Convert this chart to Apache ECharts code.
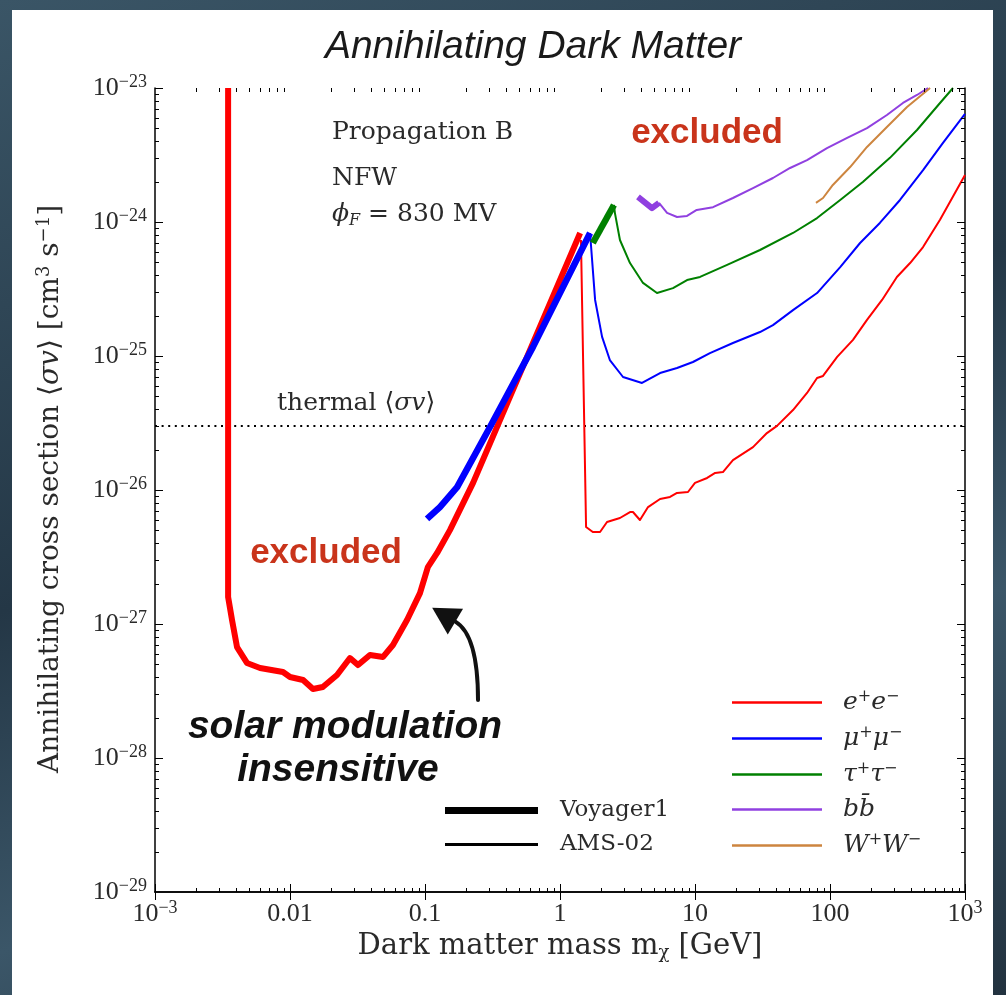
<!DOCTYPE html>
<html>
<head>
<meta charset="utf-8">
<title>Annihilating Dark Matter</title>
<script src="https://cdn.jsdelivr.net/npm/echarts@6/dist/echarts.min.js"></script>
<style>
  html, body { margin: 0; padding: 0; width: 1006px; height: 995px; overflow: hidden; }
  body { background: linear-gradient(160deg, #3a5566 0%, #243746 45%, #3b5668 70%, #22323f 100%); position: relative; }
  #panel { position: absolute; left: 12px; top: 10px; width: 981px; height: 985px; background: #ffffff; }
  #chart { position: absolute; left: 0; top: 0; width: 1006px; height: 995px; }
</style>
</head>
<body>
<div id="panel"></div>
<div id="chart"></div>
<script>
// ---- limits on <sigma v> vs dark matter mass [GeV, cm^3 s^-1] ----
const eeVoyager = [[3.48e-3,1.0e-23],[3.48e-3,1.59e-27],[3.72e-3,1.07e-27],[4.05e-3,6.73e-28],[4.80e-3,5.12e-28],
  [6.00e-3,4.70e-28],[8.87e-3,4.38e-28],[1.00e-2,4.02e-28],[1.25e-2,3.82e-28],[1.48e-2,3.27e-28],[1.75e-2,3.39e-28],
  [2.23e-2,4.16e-28],[2.78e-2,5.57e-28],[3.19e-2,4.94e-28],[3.91e-2,5.87e-28],[4.89e-2,5.68e-28],[5.79e-2,6.97e-28],
  [7.36e-2,1.07e-27],[9.18e-2,1.70e-27],[0.105,2.66e-27],[0.123,3.39e-27],[0.153,5.02e-27],[0.227,1.13e-26],[1.41,8.28e-25]];
const mumuVoyager = [[0.1035,6.08e-27],[0.129,7.46e-27],[0.173,1.05e-26],[0.303,2.95e-26],[0.631,1.17e-25],[1.67,8.28e-25]];
const tautauVoyager = [[1.75,6.97e-25],[2.51,1.34e-24]];
const bbVoyager = [[3.78,1.54e-24],[4.80,1.27e-24],[5.41,1.39e-24]];

const eeAMS = [[1.43,7.34e-25],[1.56,5.30e-27],[1.75,4.86e-27],[1.98,4.86e-27],[2.23,5.77e-27],[2.78,6.18e-27],[3.30,6.85e-27],
  [3.47,6.85e-27],[3.91,5.97e-27],[4.49,7.46e-27],[5.51,8.57e-27],[6.53,8.87e-27],[7.36,9.51e-27],[8.87,9.66e-27],[10.0,1.13e-26],
  [12.3,1.23e-26],[14.1,1.34e-26],[16.1,1.36e-26],[19.1,1.67e-26],[26.9,2.09e-26],[34.1,2.66e-26],[40.5,3.01e-26],[53.2,3.95e-26],
  [67.6,5.30e-26],[80.2,6.85e-26],[88.8,7.10e-26],[113,9.84e-26],[148,1.32e-25],[188,1.86e-25],[243,2.62e-25],[313,3.89e-25],
  [392,4.94e-25],[489,6.50e-25],[653,1.04e-24],[1000,2.24e-24]];
const mumuAMS = [[1.67,8.28e-25],[1.82,2.62e-25],[2.05,1.39e-25],[2.34,9.33e-26],[2.93,6.97e-26],[4.05,6.29e-26],[5.51,7.46e-26],
  [7.36,8.13e-26],[9.66,9.02e-26],[12.9,1.05e-25],[19.1,1.25e-25],[30.3,1.51e-25],[37.8,1.70e-25],[53.2,2.20e-25],[80.2,2.95e-25],
  [119,4.61e-25],[167,6.97e-25],[234,9.84e-25],[330,1.46e-24],[489,2.44e-24],[687,3.89e-24],[1000,6.40e-24]];
const tautauAMS = [[2.51,1.34e-24],[2.55,1.17e-24],[2.78,7.34e-25],[3.30,4.94e-25],[4.12,3.51e-25],[5.23,2.95e-25],[6.87,3.21e-25],
  [8.73,3.69e-25],[10.9,3.89e-25],[17.3,4.78e-25],[30.3,6.18e-25],[53.2,8.28e-25],[80.2,1.07e-24],[119,1.46e-24],[175,1.99e-24],
  [278,3.01e-24],[441,4.86e-24],[653,7.73e-24],[815,1.0e-23]];
const bbAMS = [[5.41,1.39e-24],[6.21,1.17e-24],[7.36,1.09e-24],[8.73,1.11e-24],[10.3,1.23e-24],[13.6,1.29e-24],[19.1,1.51e-24],
  [26.9,1.79e-24],[37.8,2.13e-24],[50.6,2.53e-24],[67.6,2.90e-24],[95.0,3.56e-24],[134,4.24e-24],[188,5.02e-24],[264,6.29e-24],
  [347,7.73e-24],[441,8.87e-24],[532,1.0e-23]];
const wwAMS = [[78.7,1.39e-24],[88.8,1.51e-24],[105,1.89e-24],[141,2.57e-24],[188,3.63e-24],[264,5.12e-24],[372,7.21e-24],[551,1.0e-23]];

const thermalSigmaV = 3e-26;

// channel names and their legend labels (rich text)
const channels = ['e+e-', 'mu+mu-', 'tau+tau-', 'bbbar', 'W+W-'];
const channelLabels = [
  '{p|}{i|e}{s|+}{i|e}{s|−}',
  '{p|}{i|μ}{s|+}{i|μ}{s|−}',
  '{p|}{i|τ}{s|+}{i|τ}{s|−}',
  '{p|}{i|b}{i|b̄}',
  '{p|}{i|W}{s|+}{i|W}{s|−}'
];
const channelColors = ['#ff0000', '#0000ff', '#008000', '#9040e0', '#cd853f'];
const experiments = ['Voyager1', 'AMS-02'];

// axis ranges (decades) and tick labels
const xDecades = [-3, 3];
const yDecades = [-29, -23];
const xTickLabels = ['{b|10}{s|−3}', '{b|0.01}', '{b|0.1}', '{b|1}', '{b|10}', '{b|100}', '{b|10}{s|3}'];
const yTickLabels = ['{b|10}{s|−29}', '{b|10}{s|−28}', '{b|10}{s|−27}', '{b|10}{s|−26}', '{b|10}{s|−25}', '{b|10}{s|−24}', '{b|10}{s|−23}'];

const exactPow10 = e => Number('1e' + e);
const xRange = [exactPow10(xDecades[0]), exactPow10(xDecades[1])];
const yRange = [exactPow10(yDecades[0]), exactPow10(yDecades[1])];

// minor ticks at 2..9 times each decade
function minorTicks(dec) {
  const out = [];
  for (let e = dec[0]; e < dec[1]; e++) {
    for (let k = 2; k <= 9; k++) out.push(Number(k + 'e' + e));
  }
  return out;
}
const xMinor = minorTicks(xDecades);
const yMinor = minorTicks(yDecades);

const SERIF = "'Liberation Serif', 'DejaVu Serif', serif";
const WSERIF = "'DejaVu Serif', 'Liberation Serif', serif";
const SANS = "'Liberation Sans', 'DejaVu Sans', Arial, sans-serif";
const INK = '#2a2a2a';

const tickRich = {
  b: { fontFamily: SERIF, fontSize: 26, color: INK, lineHeight: 30 },
  s: { fontFamily: SERIF, fontSize: 18, color: INK, lineHeight: 14, verticalAlign: 'top' }
};

const chart = echarts.init(document.getElementById('chart'));

function lineSeries(name, data, color, width) {
  return {
    type: 'line', name: name, data: data, showSymbol: false, symbol: 'none',
    lineStyle: { color: color, width: width, cap: 'butt', join: 'round' },
    itemStyle: { color: color }, silent: true, animation: false, z: 3
  };
}

const minorTickSeries = (axis) => ({
  type: 'custom', silent: true, animation: false, z: 6,
  data: axis === 'x' ? xMinor.map(v => [v, 1e-26]) : yMinor.map(v => [0.01, v]),
  renderItem: function (params, api) {
    const cs = params.coordSys;
    const p = api.coord([api.value(0), api.value(1)]);
    const st = { stroke: '#000', lineWidth: 1 };
    if (axis === 'x') {
      const x = Math.round(p[0]) + 0.5;
      return { type: 'group', children: [
        { type: 'line', shape: { x1: x, y1: cs.y + cs.height, x2: x, y2: cs.y + cs.height - 4 }, style: st },
        { type: 'line', shape: { x1: x, y1: cs.y, x2: x, y2: cs.y + 4 }, style: st }
      ] };
    }
    const y = Math.round(p[1]) + 0.5;
    return { type: 'group', children: [
      { type: 'line', shape: { x1: cs.x, y1: y, x2: cs.x + 4, y2: y }, style: st },
      { type: 'line', shape: { x1: cs.x + cs.width, y1: y, x2: cs.x + cs.width - 4, y2: y }, style: st }
    ] };
  }
});

function logIndex(v) { return Math.round(Math.log10(v)); }

function logAxis(extra) {
  return Object.assign({
    type: 'log', logBase: 10, interval: 1,
    axisLine: { show: true, lineStyle: { color: '#000', width: 1.5 } },
    axisTick: { show: true, inside: true, length: 8, lineStyle: { color: '#000', width: 1 } },
    splitLine: { show: false }, minorTick: { show: false }
  }, extra);
}

const option = {
  animation: false,
  backgroundColor: 'transparent',
  grid: { left: 155, top: 88, width: 810, height: 804, containLabel: false, outerBoundsMode: 'none' },
  xAxis: [
    logAxis({
      min: xRange[0], max: xRange[1], position: 'bottom',
      name: '{t|Dark matter mass m}{sub|χ}{t| [GeV]}', nameLocation: 'middle', nameGap: 36,
      nameTextStyle: { rich: {
        t: { fontFamily: WSERIF, fontSize: 29, color: INK, lineHeight: 32 },
        sub: { fontFamily: WSERIF, fontSize: 18, color: INK, lineHeight: 12, verticalAlign: 'bottom' }
      } },
      axisLabel: { show: true, margin: 7, showMinLabel: true, showMaxLabel: true,
        formatter: v => xTickLabels[logIndex(v) - xDecades[0]], rich: tickRich }
    }),
    logAxis({ min: xRange[0], max: xRange[1], position: 'top', axisLabel: { show: false } })
  ],
  yAxis: [
    logAxis({
      min: yRange[0], max: yRange[1], position: 'left',
      // the corner label (lowest decade) is placed separately below
      axisLabel: { show: true, margin: 8, showMinLabel: false, showMaxLabel: true,
        formatter: v => logIndex(v) === yDecades[0] ? '' : yTickLabels[logIndex(v) - yDecades[0]], rich: tickRich }
    }),
    logAxis({ min: yRange[0], max: yRange[1], position: 'right', axisLabel: { show: false } })
  ],
  legend: [
    {
      data: channels.map(n => ({ name: n, icon: 'path://M0 0H90V2.5H0Z' })),
      orient: 'vertical', left: 732, top: 689, padding: 0,
      itemWidth: 90, itemHeight: 14, itemGap: 10, selectedMode: false, symbolKeepAspect: true,
      formatter: name => channelLabels[channels.indexOf(name)],
      textStyle: { rich: {
        p: { width: 16 },
        i: { fontFamily: WSERIF, fontStyle: 'italic', fontSize: 25, color: INK, lineHeight: 27 },
        s: { fontFamily: WSERIF, fontSize: 16, color: INK, lineHeight: 14, verticalAlign: 'top' }
      } }
    },
    {
      data: [
        { name: experiments[0], icon: 'path://M0 0H93V7H0Z' },
        { name: experiments[1], icon: 'path://M0 0H93V3H0Z' }
      ],
      orient: 'vertical', left: 445, top: 799, padding: 0,
      itemWidth: 93, itemHeight: 14, itemGap: 11, selectedMode: false, symbolKeepAspect: true,
      formatter: name => '{p|}{t|' + name + '}',
      textStyle: { rich: {
        p: { width: 17 },
        t: { fontFamily: WSERIF, fontSize: 23, color: INK, lineHeight: 26 }
      } }
    }
  ],
  series: [
    // AMS-02 limits (thin)
    lineSeries('e+e-', eeAMS, channelColors[0], 2),
    lineSeries('mu+mu-', mumuAMS, channelColors[1], 2),
    lineSeries('tau+tau-', tautauAMS, channelColors[2], 2),
    lineSeries('bbbar', bbAMS, channelColors[3], 2),
    lineSeries('W+W-', wwAMS, channelColors[4], 2),
    // Voyager 1 limits (thick)
    lineSeries('e+e- Voyager1', eeVoyager, channelColors[0], 6),
    lineSeries('mu+mu- Voyager1', mumuVoyager, channelColors[1], 6.5),
    lineSeries('tau+tau- Voyager1', tautauVoyager, channelColors[2], 6.5),
    lineSeries('bbbar Voyager1', bbVoyager, channelColors[3], 6),
    // line-style keys for the experiment legend
    lineSeries('Voyager1', [], '#000', 7),
    lineSeries('AMS-02', [], '#000', 3),
    // thermal relic cross section
    {
      type: 'line', name: 'thermal', showSymbol: false, symbol: 'none', silent: true, z: 2,
      data: [[xRange[0], thermalSigmaV], [xRange[1], thermalSigmaV]],
      lineStyle: { color: '#000', width: 2, type: [2, 4.6] }
    },
    minorTickSeries('x'),
    minorTickSeries('y')
  ]
};

chart.setOption(option);

// annotations: texts, y-axis title, corner tick label and the curved arrow
const toPx = d => chart.convertToPixel({ xAxisIndex: 0, yAxisIndex: 0 }, d);
const arrowTail = toPx([0.247, 2.71e-28]);
const arrowCtrl = toPx([0.247, 8.28e-28]);
const arrowTip = toPx([0.113, 1.32e-27]);
const dx = arrowTip[0] - arrowCtrl[0], dy = arrowTip[1] - arrowCtrl[1];
const dl = Math.hypot(dx, dy) || 1, ux = dx / dl, uy = dy / dl;
const headLen = 27, headHalf = 15;
const base = [arrowTip[0] - ux * headLen, arrowTip[1] - uy * headLen];
const corner = toPx([xRange[0], yRange[0]]);

const txt = (x, y, text, font, color, align, rich) => ({
  type: 'text', x: x, y: y, silent: true, z: 20,
  style: { text: text, font: font, fill: color || INK, align: align || 'left', verticalAlign: 'middle', rich: rich }
});

const tickRichFill = {
  b: { fontFamily: SERIF, fontSize: 26, fill: INK, lineHeight: 30 },
  s: { fontFamily: SERIF, fontSize: 18, fill: INK, lineHeight: 14, verticalAlign: 'top' }
};

const yTitle = txt(51, 489, '{t|Annihilating cross section ⟨}{i|σv}{t|⟩ [cm}{s|3}{t| s}{s|−1}{t|]}', '28px ' + WSERIF, INK, 'center', {
  t: { fontFamily: WSERIF, fontSize: 28, fill: INK, lineHeight: 32 },
  i: { fontFamily: WSERIF, fontStyle: 'italic', fontSize: 28, fill: INK, lineHeight: 32 },
  s: { fontFamily: WSERIF, fontSize: 18, fill: INK, lineHeight: 16, verticalAlign: 'top' }
});
yTitle.rotation = Math.PI / 2;

chart.setOption({
  graphic: [
    txt(533, 47, 'Annihilating Dark Matter', 'italic 39px ' + SANS, '#1a1a1a', 'center'),
    yTitle,
    txt(corner[0] - 8, corner[1], yTickLabels[0], '26px ' + SERIF, INK, 'right', tickRichFill),
    txt(332, 132, 'Propagation B', '25px ' + WSERIF, INK),
    txt(332, 178, 'NFW', '25px ' + WSERIF, INK),
    txt(332, 214, '{i|ϕ}{sub|F}{t| = 830 MV}', '25px ' + WSERIF, INK, 'left', {
      t: { fontFamily: WSERIF, fontSize: 25, fill: INK, lineHeight: 30 },
      i: { fontFamily: WSERIF, fontStyle: 'italic', fontSize: 25, fill: INK, lineHeight: 30 },
      sub: { fontFamily: WSERIF, fontStyle: 'italic', fontSize: 16, fill: INK, lineHeight: 14, verticalAlign: 'bottom' }
    }),
    txt(277, 403, '{t|thermal ⟨}{i|σv}{t|⟩}', '25px ' + WSERIF, INK, 'left', {
      t: { fontFamily: WSERIF, fontSize: 25, fill: INK },
      i: { fontFamily: WSERIF, fontStyle: 'italic', fontSize: 25, fill: INK }
    }),
    txt(707, 133, 'excluded', 'bold 35px ' + SANS, '#c9341b', 'center'),
    txt(326, 553, 'excluded', 'bold 35px ' + SANS, '#c9341b', 'center'),
    txt(345, 727, 'solar modulation', 'italic bold 39px ' + SANS, '#111', 'center'),
    txt(338, 770, 'insensitive', 'italic bold 39px ' + SANS, '#111', 'center'),
    {
      type: 'bezierCurve', silent: true, z: 20,
      shape: { x1: arrowTail[0], y1: arrowTail[1], cpx1: arrowCtrl[0], cpy1: arrowCtrl[1], x2: base[0], y2: base[1] },
      style: { stroke: '#111', lineWidth: 4, fill: null, lineCap: 'round' }
    },
    {
      type: 'polygon', silent: true, z: 20,
      shape: { points: [
        arrowTip,
        [base[0] - uy * headHalf, base[1] + ux * headHalf],
        [base[0] + uy * headHalf, base[1] - ux * headHalf]
      ] },
      style: { fill: '#111' }
    }
  ]
});
</script>
</body>
</html>
